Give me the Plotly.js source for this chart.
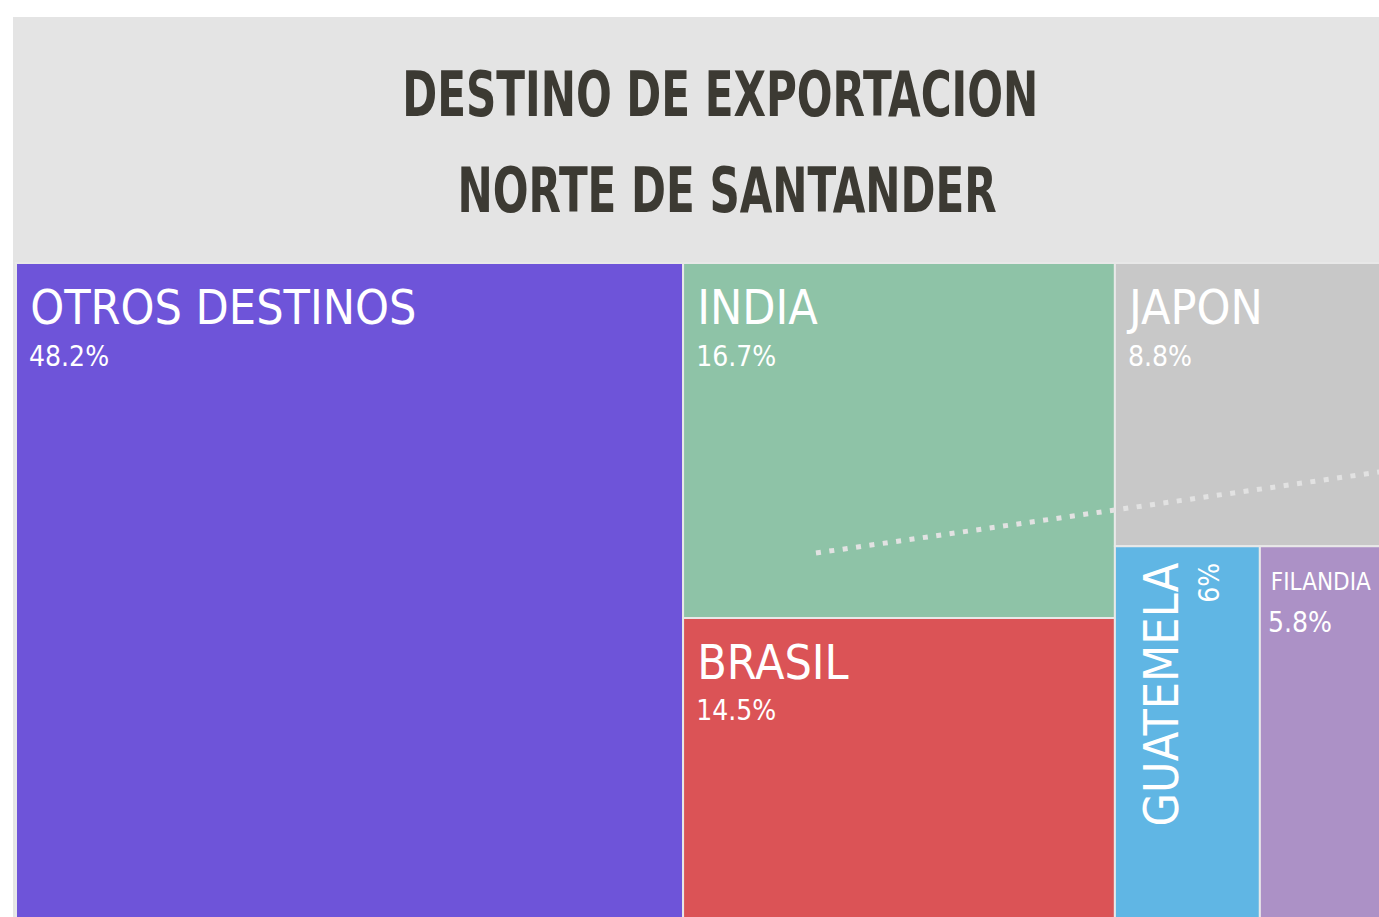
<!DOCTYPE html>
<html>
<head>
<meta charset="utf-8">
<script src="https://cdn.plot.ly/plotly-3.0.1.min.js"></script>
<style>
html,body{margin:0;padding:0;overflow:hidden;background:#ffffff;width:1379px;height:917px}
#chart{position:absolute;left:13px;top:17px;width:1397px;height:919px}
#chart .annotation-text{transform-box:fill-box;transform-origin:center;transform:scaleX(0.755)}
</style>
</head>
<body>
<div id="chart"></div>
<script>
// Data
const destinos = ["OTROS DESTINOS", "INDIA", "BRASIL", "JAPON", "GUATEMELA", "FILANDIA"];
const porcentajes = [48.2, 16.7, 14.5, 8.8, 6, 5.8];
const padres = ["", "", "", "", "", ""];
const tituloLineas = ["DESTINO DE EXPORTACION", "NORTE DE SANTANDER"];
const etiquetaVertical = "GUATEMELA";
const etiquetaPequena = "FILANDIA";

// Styles
const tileColors = ["#6e54d9", "#8ec3a7", "#db5356", "#c8c8c8", "#60b6e4", "#ac91c6"];
const fontFam = "DejaVu Sans Condensed, Liberation Sans Narrow, sans-serif";
const plantillaGrande = "<span style='font-size:62px'>\u2009</span><span style='font-size:48px'>%{label}</span><br><span style='font-size:28px'>\u2009\u2009%{value}%</span>";
const plantillaPequena = "<span style='font-size:44px'>\u2009</span><span style='font-size:24px'>%{label}</span><br><span style='font-size:28px'>\u2009%{value}%</span>";
const plantillas = destinos.map(function (d) { return d === etiquetaPequena ? plantillaPequena : plantillaGrande; });

const trace = {
  type: "treemap",
  labels: destinos,
  parents: padres,
  values: porcentajes,
  sort: true,
  texttemplate: plantillas,
  textposition: "top left",
  textfont: {family: fontFam, size: 32, color: "#ffffff"},
  marker: {colors: tileColors, line: {color: "#e8e8e8", width: 2}, pad: {t: 0, l: 0, r: 0, b: 0}},
  tiling: {packing: "squarify", squarifyratio: 1.618034, pad: 0},
  pathbar: {visible: false},
  hoverinfo: "label+value"
};

const titleFont = {family: fontFam, size: 62, color: "#3c3a33", weight: "bold"};

const layout = {
  width: 1397,
  height: 919,
  margin: {l: 3, r: 10, t: 246, b: 10, pad: 0},
  paper_bgcolor: "#e4e4e4",
  plot_bgcolor: "#e4e4e4",
  showlegend: false,
  annotations: [
    {text: "<b>" + tituloLineas[0] + "</b>", xref: "paper", yref: "paper", x: 0.5087, y: 1.2549, xanchor: "center", yanchor: "middle", showarrow: false, font: titleFont},
    {text: "<b>" + tituloLineas[1] + "</b>", xref: "paper", yref: "paper", x: 0.5138, y: 1.1086, xanchor: "center", yanchor: "middle", showarrow: false, font: titleFont}
  ],
  shapes: [
    {type: "line", xref: "paper", yref: "paper", x0: 0.578, y0: 0.5626, x1: 1.0, y1: 0.6893,
     line: {color: "#e2e2e2", width: 5, dash: "5px,8.5px"}}
  ]
};

function rotateNarrowLabel(gd) {
  gd.querySelectorAll("g.slice").forEach(function (g) {
    const t = g.querySelector("text");
    const surf = g.querySelector("path.surface");
    if (!t || !surf || t.textContent.indexOf(etiquetaVertical) < 0) return;
    const pb = surf.getBBox();
    t.setAttribute("text-anchor", "end");
    t.removeAttribute("transform");
    const tb = t.getBBox();
    const padL = 5, padT = 16;
    const tx = pb.x + padL - tb.y;
    const ty = pb.y + padT + (tb.x + tb.width);
    t.setAttribute("transform", "translate(" + tx + "," + ty + ") rotate(-90)");
  });
}

Plotly.newPlot("chart", [trace], layout, {displayModeBar: false, staticPlot: true}).then(function (gd) {
  rotateNarrowLabel(gd);
});
</script>
</body>
</html>
